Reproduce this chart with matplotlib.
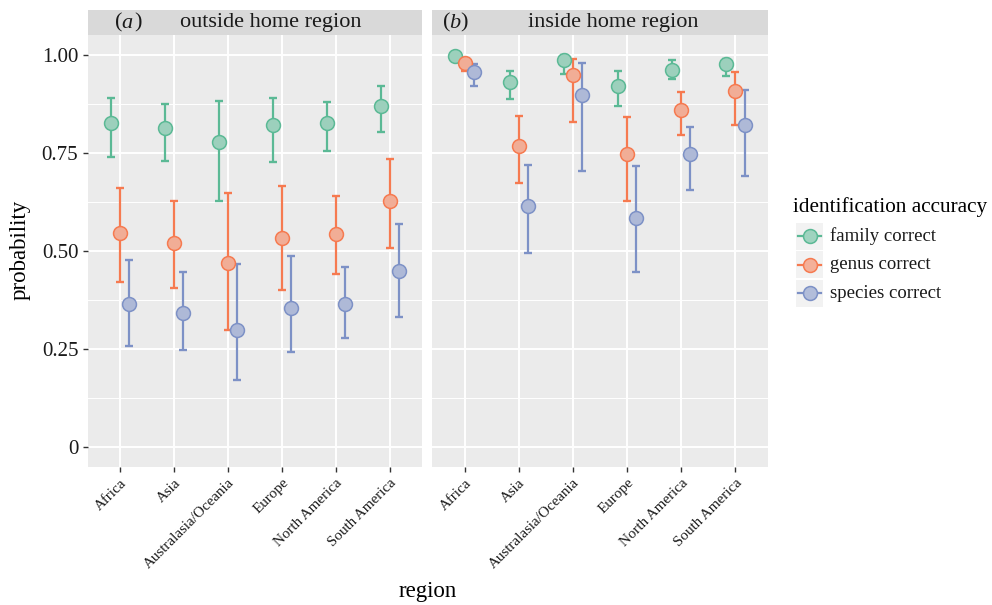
import matplotlib
matplotlib.use("Agg")
import matplotlib.pyplot as plt
from matplotlib.lines import Line2D
from matplotlib.patches import Rectangle
import numpy as np

plt.rcParams['font.family'] = ['Liberation Serif', 'DejaVu Serif']

regions = ["Africa", "Asia", "Australasia/Oceania", "Europe", "North America", "South America"]
groups = ["family correct", "genus correct", "species correct"]
colors = ["#5BB995", "#F67A50", "#7D91C6"]
panels = ["outside home region", "inside home region"]
panel_tags = ["a", "b"]

# outside home region
fam_out = [0.826, 0.812, 0.778, 0.820, 0.826, 0.870]
fam_out_lo = [0.740, 0.728, 0.628, 0.726, 0.754, 0.802]
fam_out_hi = [0.889, 0.873, 0.882, 0.890, 0.879, 0.920]
gen_out = [0.544, 0.520, 0.468, 0.533, 0.543, 0.628]
gen_out_lo = [0.421, 0.405, 0.299, 0.401, 0.442, 0.508]
gen_out_hi = [0.659, 0.628, 0.646, 0.665, 0.639, 0.734]
spe_out = [0.363, 0.342, 0.298, 0.354, 0.363, 0.448]
spe_out_lo = [0.258, 0.247, 0.171, 0.242, 0.277, 0.330]
spe_out_hi = [0.476, 0.446, 0.466, 0.487, 0.459, 0.567]

# inside home region
fam_in = [0.996, 0.930, 0.987, 0.921, 0.962, 0.975]
fam_in_lo = [0.985, 0.887, 0.950, 0.868, 0.937, 0.946]
fam_in_hi = [1.000, 0.958, 0.998, 0.957, 0.985, 0.990]
gen_in = [0.979, 0.768, 0.949, 0.746, 0.859, 0.906]
gen_in_lo = [0.958, 0.672, 0.829, 0.627, 0.796, 0.820]
gen_in_hi = [0.990, 0.843, 0.988, 0.842, 0.904, 0.955]
spe_in = [0.956, 0.614, 0.896, 0.584, 0.746, 0.821]
spe_in_lo = [0.920, 0.495, 0.703, 0.446, 0.656, 0.691]
spe_in_hi = [0.977, 0.719, 0.978, 0.715, 0.815, 0.910]

y_ticks = [0, 0.25, 0.5, 0.75, 1.0]
y_ticklabels = ["0", "0.25", "0.50", "0.75", "1.00"]

data = [
    [(fam_out, fam_out_lo, fam_out_hi), (gen_out, gen_out_lo, gen_out_hi), (spe_out, spe_out_lo, spe_out_hi)],
    [(fam_in, fam_in_lo, fam_in_hi), (gen_in, gen_in_lo, gen_in_hi), (spe_in, spe_in_lo, spe_in_hi)],
]

W, H = 992, 605
fig = plt.figure(figsize=(W / 100, H / 100), dpi=100)
fig.patch.set_facecolor("white")

def fx(px):
    return px / W

def fy(py):
    return 1 - py / H

panel_x = [(88, 422), (432, 768)]
ptop, pbot = 35, 466.5
strip_top = 10

bg = "#EBEBEB"
dodge = 0.5 / 3
x = np.arange(1, len(regions) + 1)

def blend(c, a=0.55, base=bg):
    c = np.array(matplotlib.colors.to_rgb(c))
    b = np.array(matplotlib.colors.to_rgb(base))
    return tuple(a * c + (1 - a) * b)

for p, (x0, x1) in enumerate(panel_x):
    ax = fig.add_axes([fx(x0), fy(pbot), fx(x1 - x0), (pbot - ptop) / H])
    ax.set_facecolor(bg)
    ax.set_xlim(0.4, 6.6)
    ax.set_ylim(-0.05, 1.05)
    for s in ax.spines.values():
        s.set_visible(False)
    ax.set_yticks(y_ticks)
    ax.set_yticks([0.125, 0.375, 0.625, 0.875], minor=True)
    ax.set_xticks(x)
    ax.grid(True, which="major", color="white", linewidth=1.4)
    ax.grid(True, which="minor", axis="y", color="white", linewidth=0.7)
    ax.set_axisbelow(True)
    ax.tick_params(axis="both", which="major", length=3.5, width=1.0, color="#333333")
    ax.tick_params(axis="y", which="minor", length=0)
    if p == 0:
        ax.set_yticklabels(y_ticklabels, fontsize=15, color="#1A1A1A")
    else:
        ax.tick_params(axis="y", which="major", length=0, labelleft=False)
    ax.set_xticklabels(regions, rotation=45, ha="right", rotation_mode="anchor",
                       fontsize=10.8, color="#1A1A1A")

    # error bars first, then points (as in the original layering)
    for g, (vals, lo, hi) in enumerate(data[p]):
        xs = x + (g - 1) * dodge
        vals = np.array(vals); lo = np.array(lo); hi = np.array(hi)
        ax.errorbar(xs, vals, yerr=[vals - lo, hi - vals], fmt="none",
                    ecolor=colors[g], elinewidth=1.6, capsize=2.9, capthick=1.7, zorder=2)
    for g, (vals, lo, hi) in enumerate(data[p]):
        xs = x + (g - 1) * dodge
        ax.plot(xs, vals, "o", markersize=10, markerfacecolor=blend(colors[g]),
                markeredgecolor=colors[g], markeredgewidth=1.1, linestyle="none", zorder=3)

    # strip
    fig.patches.append(Rectangle((fx(x0), fy(ptop)), fx(x1 - x0), (ptop - strip_top) / H,
                                 transform=fig.transFigure, facecolor="#D9D9D9",
                                 edgecolor="none"))

ymid = fy((strip_top + ptop) / 2 + 0.5)
sfs = 16
tc = "#1A1A1A"
fig.text(fx(115), ymid, "(", fontsize=sfs, ha="left", va="center", color=tc)
fig.text(fx(121), ymid, panel_tags[0], fontsize=sfs, style="italic", ha="left", va="center", color=tc)
fig.text(fx(134), ymid, ")", fontsize=sfs, ha="left", va="center", color=tc)
fig.text(fx(271), ymid, panels[0], fontsize=sfs, ha="center", va="center", color=tc)
fig.text(fx(443), ymid, "(", fontsize=sfs, ha="left", va="center", color=tc)
fig.text(fx(449), ymid, panel_tags[1], fontsize=sfs, style="italic", ha="left", va="center", color=tc)
fig.text(fx(460), ymid, ")", fontsize=sfs, ha="left", va="center", color=tc)
fig.text(fx(613), ymid, panels[1], fontsize=sfs, ha="center", va="center", color=tc)

# axis titles
fig.text(fx(428), fy(592), "region", fontsize=16.5, ha="center", va="center", color="black")
fig.text(fx(20), fy(250), "probability", fontsize=16.5, ha="center", va="center",
         rotation=90, color="black")

# legend
fig.text(fx(793), fy(207), "identification accuracy", fontsize=15.3, ha="left", va="center",
         color="black")
key_y = [236, 264.5, 293]
for g in range(3):
    cy = key_y[g]
    fig.patches.append(Rectangle((fx(796), fy(cy + 13.5)), fx(27), 27 / H,
                                 transform=fig.transFigure, facecolor="#F2F2F2",
                                 edgecolor="none"))
    fig.lines.append(Line2D([fx(798), fx(821)], [fy(cy), fy(cy)], transform=fig.transFigure,
                            color=colors[g], linewidth=1.6))
    fig.lines.append(Line2D([fx(809.5)], [fy(cy)], transform=fig.transFigure, marker="o",
                            markersize=10, markerfacecolor=blend(colors[g], base="#F2F2F2"),
                            markeredgecolor=colors[g], markeredgewidth=1.1, linestyle="none"))
    fig.text(fx(830), fy(cy), groups[g], fontsize=13.5, ha="left", va="center", color=tc)

fig.savefig("out.png", dpi=100)
